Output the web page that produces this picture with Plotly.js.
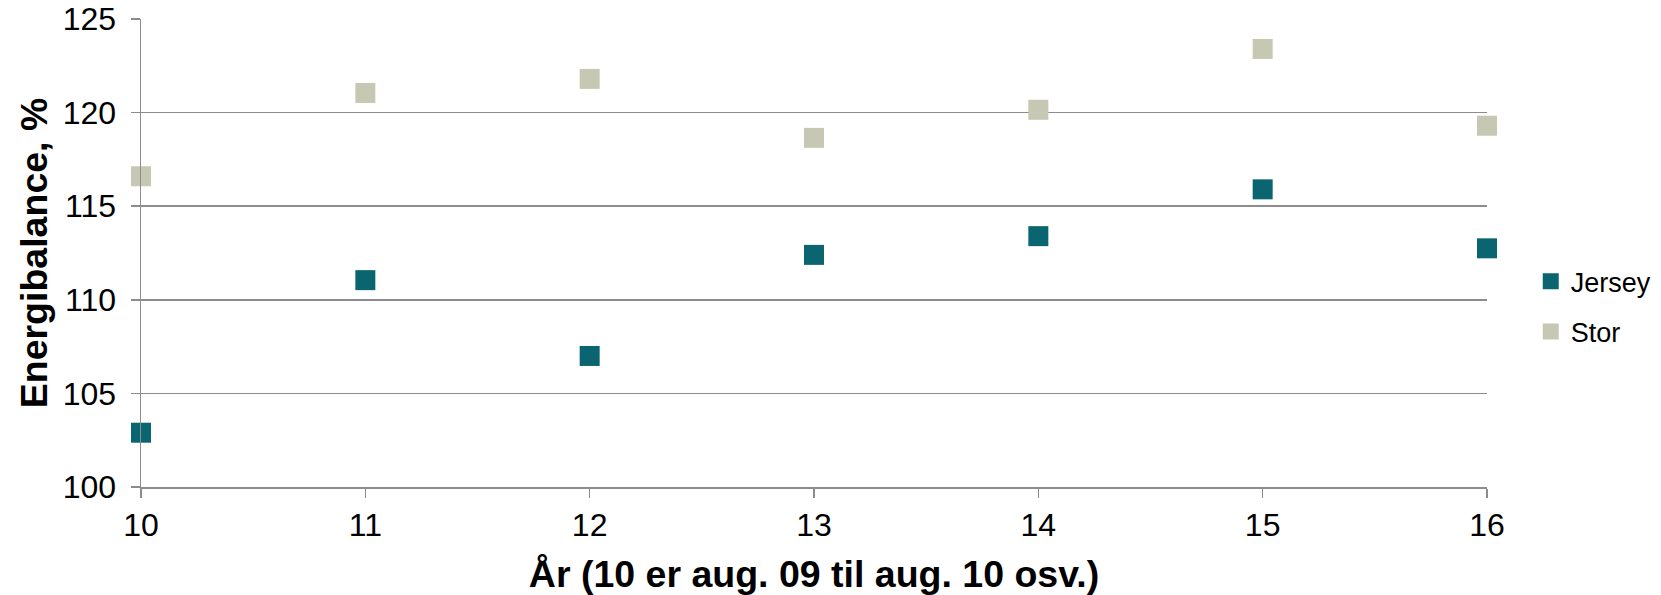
<!DOCTYPE html>
<html>
<head>
<meta charset="utf-8">
<script src="https://cdn.plot.ly/plotly-3.0.1.min.js"></script>
<style>
  html, body { margin: 0; padding: 0; background: #ffffff; }
  #chart { width: 1661px; height: 595px; }
</style>
</head>
<body>
<div id="chart"></div>
<script>
// Year index (10 = Aug 09 – Aug 10, etc.)
const years = [10, 11, 12, 13, 14, 15, 16];

// Energy balance, %
const jersey = [102.9, 111.05, 107.0, 112.4, 113.4, 115.9, 112.75];
const stor   = [116.6, 121.05, 121.8, 118.65, 120.15, 123.4, 119.3];

const seriesNames = ['Jersey', 'Stor'];
const seriesColors = ['#0b6570', '#c7c8b3'];

const gridColor = '#8c8c8c';
const fontFamily = '"Liberation Sans", Arial, sans-serif';

const traces = [jersey, stor].map((vals, i) => ({
  type: 'scatter',
  mode: 'markers',
  x: years,
  y: vals,
  name: seriesNames[i],
  legendgroup: seriesNames[i],
  cliponaxis: false,
  marker: { symbol: 'square', size: 20, color: seriesColors[i], line: { width: 0 } }
}));

const layout = {
  width: 1661,
  height: 595,
  margin: { l: 141, r: 174, t: 19, b: 108, autoexpand: false },
  paper_bgcolor: '#ffffff',
  plot_bgcolor: '#ffffff',
  font: { family: fontFamily, color: '#000000', size: 32 },
  showlegend: true,
  legend: {
    x: 1.0325, xanchor: 'left',
    y: 0.385, yanchor: 'middle',
    font: { family: fontFamily, size: 27, color: '#000000' },
    tracegroupgap: 12,
    itemwidth: 30
  },
  xaxis: {
    range: [10, 16],
    tickmode: 'array',
    tickvals: years,
    ticktext: years.map(String),
    showgrid: false,
    zeroline: false,
    showline: true,
    linecolor: gridColor,
    linewidth: 1.5,
    ticks: 'outside',
    ticklen: 9,
    tickwidth: 1.5,
    tickcolor: gridColor,
    ticklabelstandoff: 0,
    tickfont: { size: 32 },
    title: {
      text: 'År (10 er aug. 09 til aug. 10 osv.)',
      font: { size: 37.5, family: fontFamily, weight: 'bold' },
      standoff: 22
    }
  },
  yaxis: {
    range: [100, 125],
    tickmode: 'array',
    tickvals: [100, 105, 110, 115, 120, 125],
    showgrid: true,
    gridcolor: gridColor,
    gridwidth: 1.5,
    zeroline: false,
    showline: true,
    linecolor: gridColor,
    linewidth: 1.5,
    ticks: 'outside',
    ticklen: 9,
    tickwidth: 1.5,
    tickcolor: gridColor,
    ticklabelstandoff: 8,
    tickfont: { size: 32 },
    title: {
      text: 'Energibalance, %',
      font: { size: 37.5, family: fontFamily, weight: 'bold' },
      standoff: 3
    }
  }
};

Plotly.newPlot('chart', traces, layout, { displayModeBar: false, staticPlot: true });
</script>
</body>
</html>
